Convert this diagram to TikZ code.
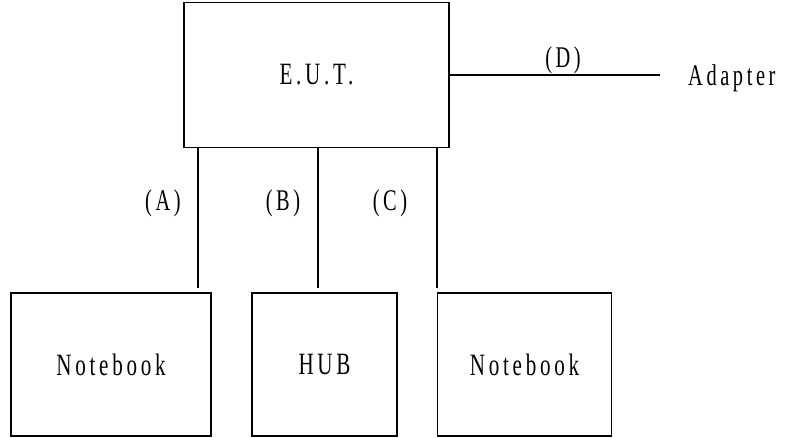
\documentclass[tikz,border=0pt]{standalone}
\usepackage{fontspec}
\setmainfont{Liberation Serif}[FakeStretch=0.68, LetterSpace=12]
\usetikzlibrary{positioning,calc}
\tikzstyle{unit} = [rectangle, draw=black, line width=1.5pt, inner sep=0pt,
text centered, font=\fontsize{31}{33}\selectfont]
\tikzstyle{link} = [line width=1.5pt]
\tikzstyle{tag} = [inner sep=0pt, font=\fontsize{30}{32}\selectfont]

\begin{document}
\begin{tikzpicture}[x=1pt, y=-1pt]
            \useasboundingbox (0,0) rectangle (799,437);
            \node[unit, minimum width=265pt, minimum height=145pt] (eut) at (316.5,75) {E.U.T.};
            \node[unit, minimum width=200pt, minimum height=143pt] (nb1) at (111,364.5) {Notebook};
            \node[unit, minimum width=145pt, minimum height=143pt] (hub) at (324.5,364.5) {HUB};
            \node[unit, minimum width=174pt, minimum height=143pt] (nb2) at (524.5,364.5) {Notebook};
            \node[tag, anchor=west] (adapter) at (688,78) {Adapter};
            \coordinate (ca) at (198,0);
            \coordinate (cb) at (318,0);
            \draw[link] (eut.south -| ca) -- ([yshift=4pt]nb1.north -| ca);
            \draw[link] (eut.south -| cb) -- ([yshift=4pt]hub.north -| cb);
            \draw[link] (eut.south -| nb2.north west) -- ([yshift=4pt]nb2.north west);
            \draw[link] (eut.east) -- ([xshift=-28pt]adapter.west |- eut.east);
            \node[tag] (la) at (163,203) {(A)};
            \node[tag] (lb) at (283,203) {(B)};
            \node[tag] (lc) at (390,203) {(C)};
            \node[tag] (ld) at (563,60) {(D)};
        \end{tikzpicture}
\end{document}
